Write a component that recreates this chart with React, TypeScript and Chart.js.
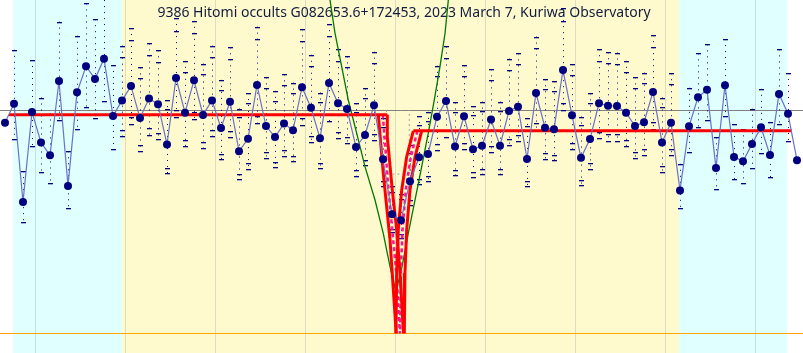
import React, { useEffect, useRef } from "react";
import { Chart, registerables } from "chart.js";
Chart.register(...registerables);

// ---- data ----
const titleText = "9386 Hitomi occults G082653.6+172453, 2023 March 7, Kuriwa Observatory";

// normalised brightness per frame (frame index = position in array)
const brightness = [
  0.943, 1.028, 0.588, 0.991, 0.855, 0.797, 1.130, 0.660, 1.079, 1.196,
  1.139, 1.230, 0.973, 1.043, 1.107, 0.964, 1.051, 1.026, 0.846, 1.143,
  0.988, 1.133, 0.978, 1.043, 0.919, 1.037, 0.815, 0.871, 1.112, 0.928,
  0.879, 0.939, 0.909, 1.102, 1.010, 0.873, 1.121, 1.030, 1.004, 0.834,
  0.888, 1.021, 0.779, 0.533, 0.506, 0.681, 0.788, 0.803, 0.970, 1.040,
  0.837, 0.972, 0.824, 0.840, 0.957, 0.840, 0.996, 1.015, 0.781, 1.076,
  0.921, 0.914, 1.179, 0.976, 0.786, 0.870, 1.030, 1.019, 1.018, 0.988,
  0.928, 0.945, 1.081, 0.855, 0.943, 0.640, 0.927, 1.057, 1.091, 0.740,
  1.111, 0.790, 0.770, 0.848, 0.923, 0.798, 1.072, 0.983, 0.775,
];

// frames whose error bars use the left / right baseline noise
const leftBaselineFrames = [1, 12];
const rightBaselineFrames = [75, 87];
// relative noise (upper, lower) from each baseline
const leftNoise = [0.235, 0.153];
const rightNoise = [0.186, 0.125];

// shaded regions (frame units)
const leftBaselineRegion = [0.89, 13.0];
const eventRegion = [13.0, 74.89];
const rightBaselineRegion = [74.89, 86.89];
const gridFrames = [3.33, 13.33, 23.33, 33.33, 43.33, 53.33, 63.33, 73.33, 83.33];

// model light curve [frame, level]
const modelBeforeD: [number, number][] = [[0.44, 0.979], [42.48, 0.979]];
const modelAfterR: [number, number][] = [[45.37, 0.907], [87.41, 0.907]];
const dEdgeEarly: [number, number][] = [[41.48, 0.979], [42.03, 0.717], [42.78, 0.418], [43.47, 0]];
const dEdgeLate: [number, number][] = [[42.48, 0.979], [42.48, 0.88], [43.03, 0.642], [43.52, 0.463], [43.89, 0.27], [44.28, 0]];
const dCentre: [number, number][] = [[41.98, 0.979], [42.61, 0.642], [43.48, 0.27], [43.88, 0]];
const rEdgeEarly: [number, number][] = [[45.37, 0.907], [44.63, 0.79], [44.08, 0.642], [43.7, 0.463], [43.52, 0.27], [43.44, 0]];
const rEdgeLate: [number, number][] = [[46.3, 0.907], [45.56, 0.79], [45.0, 0.642], [44.63, 0.463], [44.44, 0.27], [44.37, 0]];
const rCentre: [number, number][] = [[45.83, 0.907], [45.09, 0.79], [44.53, 0.642], [44.17, 0.463], [43.98, 0.27], [43.9, 0]];

// fitted parabola
const parabola: [number, number][] = [
  [36.0, 1.515], [36.11, 1.4926], [36.67, 1.3435], [37.41, 1.1939], [38.14, 1.0448],
  [39.08, 0.8957], [40.0, 0.7461], [41.11, 0.5969], [42.03, 0.4478], [42.78, 0.2983],
  [43.44, 0.185], [44.11, 0.297], [44.81, 0.448], [45.56, 0.597], [46.3, 0.746],
  [47.03, 0.896], [47.7, 1.045], [48.33, 1.194], [48.89, 1.343], [49.26, 1.493], [49.35, 1.515],
];

// expected-drop box
const expectedDrop: [number, number][] = [[42.39, 1.0], [42.39, 0.713], [44.92, 0.713], [44.92, 1.0]];

const xMin = -0.556;
const xMax = 88.667;
const yMin = -0.0882;
const yMax = 1.4926;

const toXY = (arr: [number, number][]) => arr.map(([x, y]) => ({ x, y }));

const backgroundPlugin = {
  id: "lcBackground",
  beforeDatasetsDraw(chart: any) {
    const { ctx, chartArea: a, scales } = chart;
    const xs = scales.x;
    const ys = scales.y;
    ctx.save();
    const band = (r: number[], color: string) => {
      const x0 = xs.getPixelForValue(r[0]);
      const x1 = xs.getPixelForValue(r[1]);
      ctx.fillStyle = color;
      ctx.fillRect(x0, a.top, x1 - x0, a.bottom - a.top);
    };
    band(leftBaselineRegion, "#e0ffff");
    band(rightBaselineRegion, "#e0ffff");
    band(eventRegion, "#fffacd");

    // grid
    ctx.strokeStyle = "rgba(140,140,150,0.28)";
    ctx.lineWidth = 1;
    for (const g of gridFrames) {
      const px = Math.round(xs.getPixelForValue(g)) + 0.5;
      ctx.beginPath();
      ctx.moveTo(px, a.top);
      ctx.lineTo(px, a.bottom);
      ctx.stroke();
    }

    // title
    ctx.fillStyle = "#101c40";
    ctx.font = "14px 'Noto Sans', 'Open Sans', sans-serif";
    ctx.textAlign = "center";
    ctx.textBaseline = "alphabetic";
    ctx.fillText(titleText, 404, 17);

    // reference lines
    const y1 = Math.round(ys.getPixelForValue(1)) + 0.5;
    ctx.strokeStyle = "#808080";
    ctx.beginPath();
    ctx.moveTo(a.left, y1);
    ctx.lineTo(a.right, y1);
    ctx.stroke();
    const y0 = Math.round(ys.getPixelForValue(0)) + 0.5;
    ctx.strokeStyle = "#ffa500";
    ctx.beginPath();
    ctx.moveTo(a.left, y0);
    ctx.lineTo(a.right, y0);
    ctx.stroke();

    // error bars
    ctx.fillStyle = "#000080";
    ctx.strokeStyle = "#000080";
    for (let i = leftBaselineFrames[0]; i <= rightBaselineFrames[1]; i++) {
      const v = brightness[i];
      const facs: number[] = [];
      if (i < rightBaselineFrames[0]) facs.push(1 + leftNoise[0], 1 - leftNoise[1]);
      if (i > leftBaselineFrames[1]) facs.push(1 + rightNoise[0], 1 - rightNoise[1]);
      const px = Math.round(xs.getPixelForValue(i));
      const top = ys.getPixelForValue(v * Math.max(...facs));
      const bot = ys.getPixelForValue(v * Math.min(...facs));
      ctx.setLineDash([1, 5]);
      ctx.beginPath();
      ctx.moveTo(px + 0.5, top);
      ctx.lineTo(px + 0.5, bot);
      ctx.stroke();
      ctx.setLineDash([]);
      for (const f of facs) {
        const py = Math.round(ys.getPixelForValue(v * f));
        ctx.fillRect(px - 2, py, 5, 1.3);
      }
    }
    ctx.restore();
  },
};

const lineDs = (data: [number, number][], color: string, width: number, order: number, dash: number[] = []) => ({
  data: toXY(data),
  showLine: true,
  borderColor: color,
  backgroundColor: color,
  borderWidth: width,
  borderDash: dash,
  pointRadius: 0,
  pointHoverRadius: 0,
  order,
});

export default function App() {
  const ref = useRef<HTMLCanvasElement>(null);
  useEffect(() => {
    const chart = new Chart(ref.current as HTMLCanvasElement, {
      type: "scatter",
      data: {
        datasets: [
          {
            data: brightness.map((v, i) => ({ x: i, y: v })),
            showLine: true,
            borderColor: "#6872c8",
            borderWidth: 1.2,
            pointRadius: 4,
            pointBackgroundColor: "#000080",
            pointBorderColor: "#000080",
            pointBorderWidth: 0,
            order: 0,
          },
          lineDs(modelBeforeD, "#ff0000", 3, 1),
          lineDs(modelAfterR, "#ff0000", 3, 1),
          lineDs(dEdgeEarly, "#ff0000", 3, 1),
          lineDs(dEdgeLate, "#ff0000", 3, 1),
          lineDs(rEdgeEarly, "#ff0000", 3, 1),
          lineDs(rEdgeLate, "#ff0000", 3, 1),
          lineDs(dCentre, "#ff1493", 2.5, 1, [4, 3]),
          lineDs(rCentre, "#ff1493", 2.5, 1, [4, 3]),
          lineDs(expectedDrop, "#a0a0a0", 1, 2, [2, 3]),
          lineDs(parabola, "#007a00", 1.3, 3),
        ] as any,
      },
      options: {
        animation: false,
        responsive: false,
        devicePixelRatio: 1,
        layout: { padding: 0, autoPadding: false },
        plugins: { legend: { display: false }, tooltip: { enabled: false }, title: { display: false } },
        scales: {
          x: { type: "linear", min: xMin, max: xMax, display: false },
          y: { type: "linear", min: yMin, max: yMax, display: false },
        },
      },
      plugins: [backgroundPlugin],
    });
    return () => chart.destroy();
  }, []);
  return (
    <div style={{ position: "fixed", left: 0, top: 0, width: 803, height: 353, background: "#fff" }}>
      <canvas ref={ref} width={803} height={353} style={{ display: "block", width: 803, height: 353 }} />
    </div>
  );
}
